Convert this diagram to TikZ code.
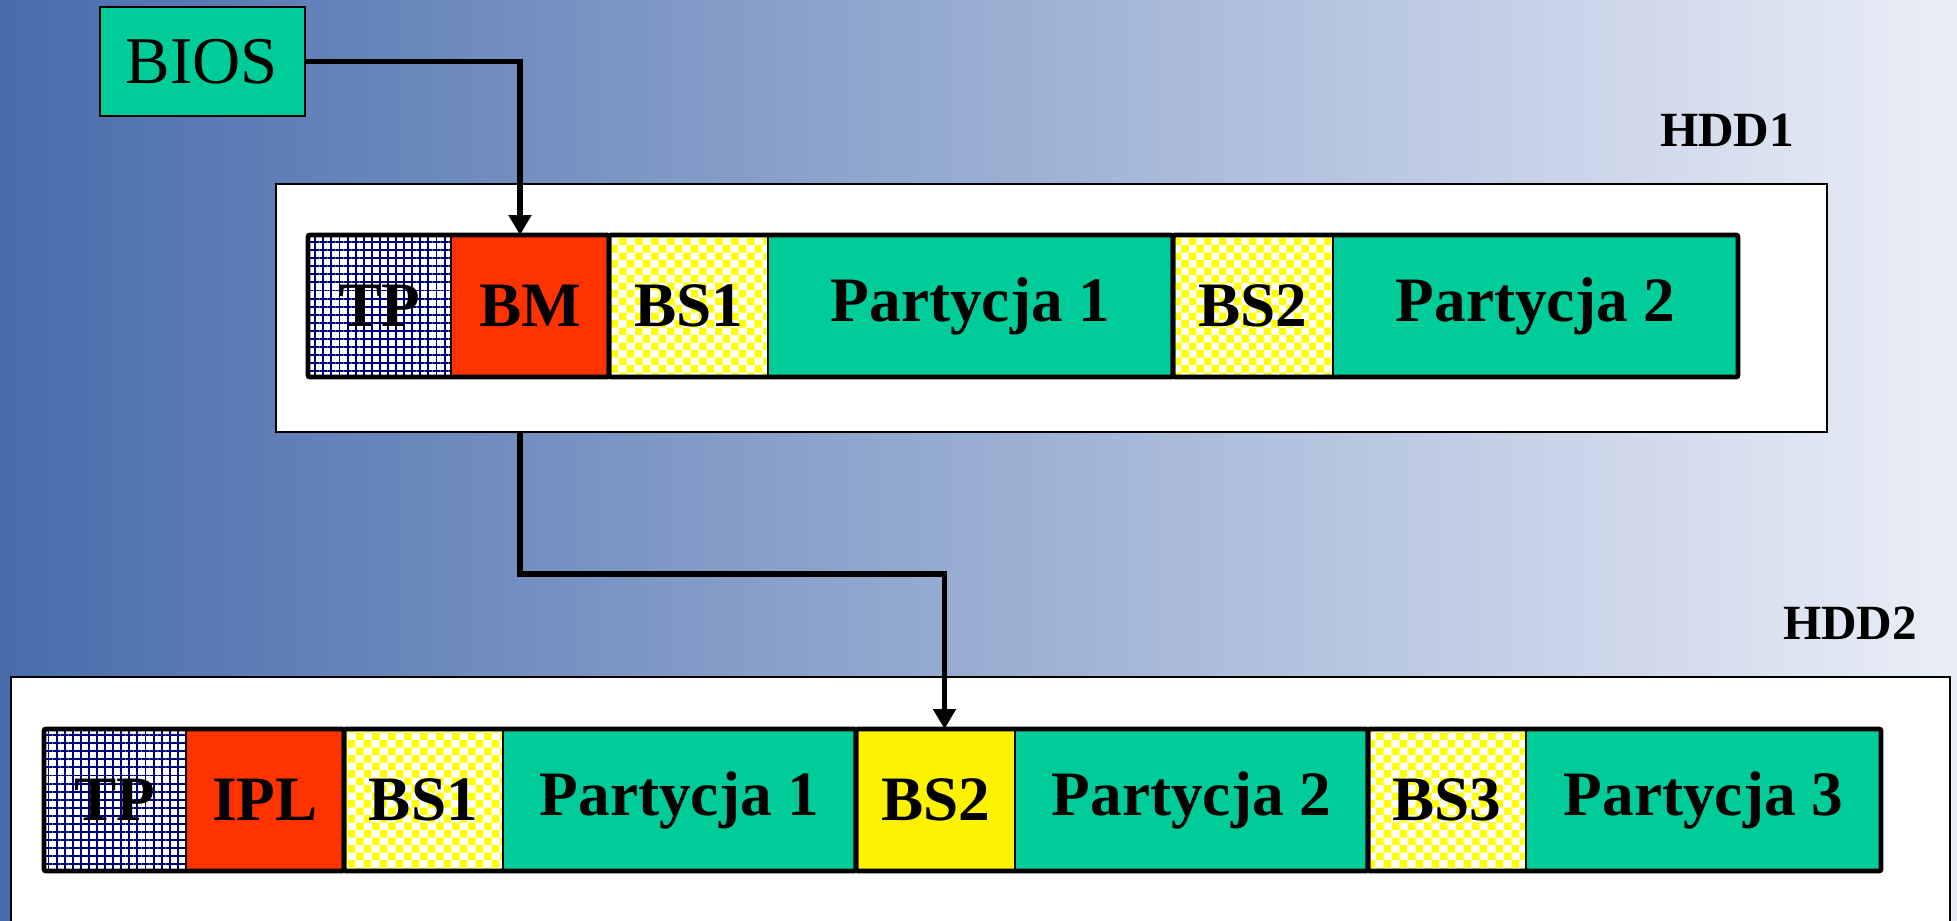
\documentclass[tikz,border=0pt]{standalone}
\usepackage{fontspec}
\setmainfont{Liberation Serif}
\usepackage{tikz}
\usetikzlibrary{patterns, patterns.meta, arrows.meta}
\definecolor{bgleft}{RGB}{72,108,172}
\definecolor{bgright}{RGB}{234,238,247}
\definecolor{partgreen}{RGB}{0,204,153}
\definecolor{bootred}{RGB}{255,51,0}
\definecolor{gridnavy}{RGB}{0,0,120}
% small yellow/white squares of the boot sectors
\pgfdeclarepatternformonly{fine checker}{\pgfpointorigin}{\pgfqpoint{4.4pt}{4.4pt}}{\pgfqpoint{4.4pt}{4.4pt}}{%
    \pgfpathrectangle{\pgfpointorigin}{\pgfqpoint{2.2pt}{2.2pt}}%
    \pgfpathrectangle{\pgfqpoint{2.2pt}{2.2pt}}{\pgfqpoint{2.2pt}{2.2pt}}%
    \pgfusepath{fill}}
\tikzset{disk seg/.style={
        draw, line width=0.4pt, minimum width=#1, minimum height=14.2mm,
        inner sep=0pt, outer sep=0pt, anchor=west,
        font=\fontsize{18}{20}\selectfont\bfseries,
    },
    table seg/.style={disk seg=#1, preaction={fill=white},
        pattern={Hatch[angle=0, distance=2.3pt, line width=0.55pt]}, pattern color=gridnavy,
    },
    boot seg/.style={disk seg=#1, fill=bootred},
    sector seg/.style={disk seg=#1, preaction={fill=white},
        pattern=fine checker, pattern color=yellow,
    },
    part seg/.style={disk seg=#1, fill=partgreen},
    group frame/.style={draw, line width=1.4pt, rounded corners=0.6pt},
    disk box/.style={
        draw, fill=white, line width=0.5pt, inner sep=0pt, anchor=north west,
    },
    disk name/.style={
        font=\fontsize{14}{16}\selectfont\bfseries, inner sep=0pt, anchor=base east,
    },
    boot arrow/.style={line width=1.6pt, -{Triangle[length=2mm, width=2.2mm]}},
}
\begin{document}
\begin{tikzpicture}[x=1mm, y=1mm]
        \clip (0,0) rectangle (195.7,-92.1);
        \shade [left color=bgleft, right color=bgright] (0,0) rectangle (195.7,-92.1);

    %% BIOS
        \node [draw, fill=partgreen, line width=0.6pt, minimum width=20.5mm, minimum height=10.9mm,
               anchor=north west, font=\fontsize{19}{21}\selectfont] (bios) at (9.85,-0.6) {BIOS};

    %% HDD1
        \node [disk box, minimum width=155.1mm, minimum height=24.8mm] (hdd1) at (27.5,-18.3) {};
        \node [disk name] (name1) at ([xshift=-3.3mm, yshift=3.7mm]hdd1.north east) {HDD1};
        \node [table seg=14.3mm] at (30.8,-30.6) (A0) {TP};
        \node [boot seg=15.8mm] at (A0.east) (A1) {BM};
        \node [sector seg=15.9mm] at (A1.east) (A2) {BS1};
        \node [part seg=40.5mm] at (A2.east) (A3) {Partycja 1};
        \node [sector seg=16mm] at (A3.east) (A4) {BS2};
        \node [part seg=40.5mm] at (A4.east) (A5) {Partycja 2};
        \draw [group frame] (A0.north west) rectangle (A1.south east);
        \draw [group frame] (A2.north west) rectangle (A3.south east);
        \draw [group frame] (A4.north west) rectangle (A5.south east);

    %% HDD2
        \node [disk box, minimum width=193.9mm, minimum height=26mm] (hdd2) at (1,-67.6) {};
        \node [disk name] (name2) at ([xshift=-3.3mm, yshift=3.7mm]hdd2.north east) {HDD2};
        \node [table seg=14.2mm] at (4.4,-80) (B0) {TP};
        \node [boot seg=15.8mm] at (B0.east) (B1) {IPL};
        \node [sector seg=15.9mm] at (B1.east) (B2) {BS1};
        \node [part seg=35.3mm] at (B2.east) (B3) {Partycja 1};
        \node [disk seg=15.9mm, fill=yellow] at (B3.east) (B4) {BS2};
        \node [part seg=35.3mm] at (B4.east) (B5) {Partycja 2};
        \node [sector seg=15.8mm] at (B5.east) (B6) {BS3};
        \node [part seg=35.5mm] at (B6.east) (B7) {Partycja 3};
        \draw [group frame] (B0.north west) rectangle (B1.south east);
        \draw [group frame] (B2.north west) rectangle (B3.south east);
        \draw [group frame] (B4.north west) rectangle (B5.south east);
        \draw [group frame] (B6.north west) rectangle (B7.south east);

    %% the boot chain
        \coordinate (drop) at ([xshift=-1mm]A1.north);
        \draw [boot arrow] (bios.east) -| (drop);
        \draw [boot arrow] (hdd1.south -| drop) -- ++(0,-14.1) -| ([xshift=0.9mm]B4.north);

    \end{tikzpicture}
\end{document}
